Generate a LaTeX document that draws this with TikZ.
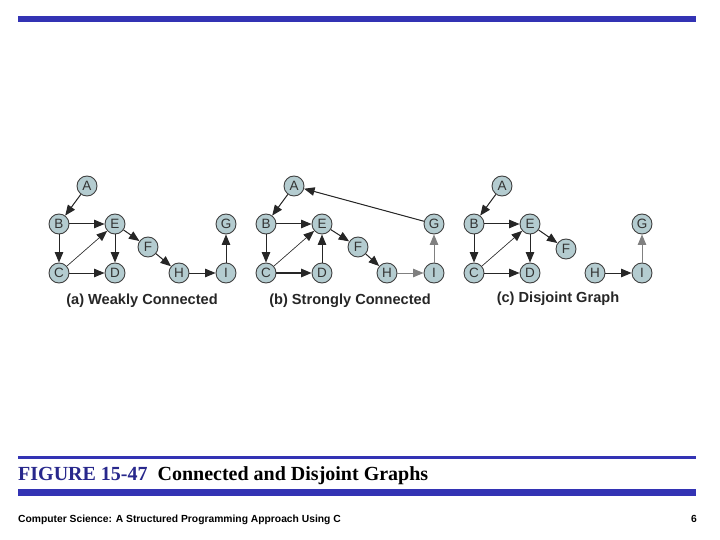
\documentclass[tikz,border=0pt]{standalone}
\usepackage{fontspec}
\setmainfont{Liberation Sans}
\newfontfamily\capserif{Liberation Serif}
\usetikzlibrary{arrows.meta}
\definecolor{barblue}{RGB}{51,51,180}
\definecolor{nodefill}{RGB}{180,204,208}
\definecolor{capnavy}{RGB}{40,40,140}
\begin{document}
\begin{tikzpicture}[x=1pt,y=-1pt,
  vtx/.style={circle,draw=black!75,fill=nodefill,line width=0.9pt,minimum size=20pt,inner sep=0pt,font=\fontsize{13.5}{14}\selectfont,text=black!80},
  edge/.style={-{Triangle[length=10.5pt,width=8.5pt]},line width=1pt,draw=black!85,fill=black!85},
  thinedge/.style={edge,line width=0.6pt},
  grayedge/.style={edge,draw=black!50,fill=black!75},
  lbl/.style={font=\bfseries\fontsize{14.6}{16}\selectfont,text=black!85}]
\useasboundingbox (0,0) rectangle (720,540);
% bars
\fill[barblue] (18,16) rectangle (696,22.5);
\fill[barblue] (18,456) rectangle (696,458.5);
\fill[barblue] (18,489) rectangle (696,495.5);
% caption
\node[anchor=base west,inner sep=0pt] (cap) at (18,480.5) {\capserif\bfseries\fontsize{20}{22}\selectfont\textcolor{capnavy}{FIGURE 15-47}\ \ Connected and Disjoint Graphs};
\node[anchor=base west,inner sep=0pt] (foot) at (18,522) {\bfseries\fontsize{10.3}{11}\selectfont Computer Science: A Structured Programming Approach Using C};
\node[anchor=base east,inner sep=0pt] (pg) at (697,522) {\bfseries\fontsize{10.3}{11}\selectfont 6};
% graph (a)
\node[vtx] (aA) at (87,186) {A};
\node[vtx] (aB) at (59,224) {B};
\node[vtx] (aE) at (115,224) {E};
\node[vtx] (aF) at (148,247) {F};
\node[vtx] (aG) at (226,224) {G};
\node[vtx] (aC) at (59,273) {C};
\node[vtx] (aD) at (115,273) {D};
\node[vtx] (aH) at (179,273) {H};
\node[vtx] (aI) at (226,273) {I};
\draw[edge] (aA) -- (aB);
\draw[edge] (aB) -- (aE);
\draw[edge] (aB) -- (aC);
\draw[thinedge] (aC) -- (aE);
\draw[edge] (aC) -- (aD);
\draw[edge] (aE) -- (aD);
\draw[edge] (aE) -- (aF);
\draw[edge] (aF) -- (aH);
\draw[edge] (aH) -- (aI);
\draw[edge] (aI) -- (aG);
\node[lbl] (la) at (142,301) {(a) Weakly Connected};
% graph (b)
\node[vtx] (bA) at (294,186) {A};
\node[vtx] (bB) at (266,224) {B};
\node[vtx] (bE) at (322,224) {E};
\node[vtx] (bF) at (358,247) {F};
\node[vtx] (bG) at (434,224) {G};
\node[vtx] (bC) at (266,273) {C};
\node[vtx] (bD) at (322,273) {D};
\node[vtx] (bH) at (387,273) {H};
\node[vtx] (bI) at (434,273) {I};
\draw[edge] (bA) -- (bB);
\draw[edge] (bB) -- (bE);
\draw[edge] (bB) -- (bC);
\draw[thinedge] (bC) -- (bE);
\draw[edge,line width=1.4pt] (bC) -- (bD);
\draw[edge] (bD) -- (bE);
\draw[edge] (bE) -- (bF);
\draw[edge] (bF) -- (bH);
\draw[grayedge] (bH) -- (bI);
\draw[grayedge] (bI) -- (bG);
\draw[edge] (bG) -- (bA);
\node[lbl] (lb) at (350,301) {(b) Strongly Connected};
% graph (c)
\node[vtx] (cA) at (502,186) {A};
\node[vtx] (cB) at (474,224) {B};
\node[vtx] (cE) at (530,224) {E};
\node[vtx] (cF) at (566,249) {F};
\node[vtx] (cG) at (642,224) {G};
\node[vtx] (cC) at (474,273) {C};
\node[vtx] (cD) at (530,273) {D};
\node[vtx] (cH) at (595,273) {H};
\node[vtx] (cI) at (642,273) {I};
\draw[edge] (cA) -- (cB);
\draw[edge] (cB) -- (cE);
\draw[edge] (cB) -- (cC);
\draw[thinedge] (cC) -- (cE);
\draw[edge] (cC) -- (cD);
\draw[edge] (cE) -- (cD);
\draw[edge] (cE) -- (cF);
\draw[edge] (cH) -- (cI);
\draw[grayedge] (cI) -- (cG);
\node[lbl] (lc) at (558,299) {(c) Disjoint Graph};
\end{tikzpicture}
\end{document}
